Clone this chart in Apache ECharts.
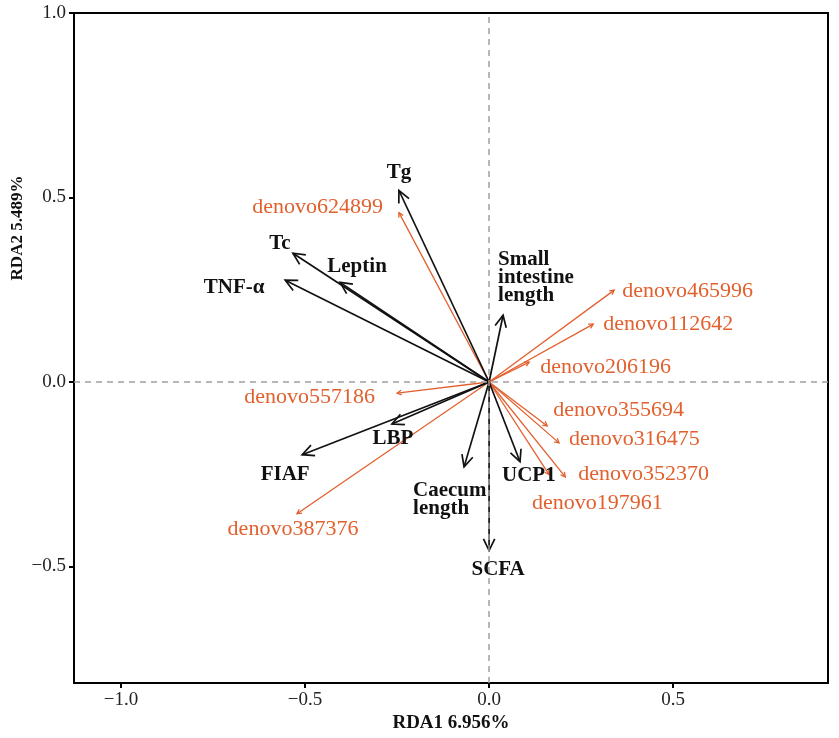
<!DOCTYPE html>
<html lang="en">
<head>
    <meta charset="UTF-8">
    <title>RDA</title>
    <script src="https://cdn.jsdelivr.net/npm/echarts@6/dist/echarts.min.js"></script>
    <style>
        html, body { margin: 0; padding: 0; background: #fff; }
        #main { width: 839px; height: 738px; }
    </style>
</head>
<body>
    <div id="main"></div>
    <script>
        // environmental factors (black arrows)
        var envNames = ['Tg', 'Tc', 'TNF-α', 'Leptin', 'Small\nintestine\nlength', 'LBP', 'FIAF', 'Caecum\nlength', 'UCP1', 'SCFA'];
        var envX = [-0.245, -0.533, -0.554, -0.405, 0.038, -0.264, -0.508, -0.068, 0.084, 0.000];
        var envY = [0.519, 0.349, 0.276, 0.270, 0.181, -0.114, -0.197, -0.230, -0.216, -0.457];

        // OTUs (orange arrows)
        var otuNames = ['denovo624899', 'denovo465996', 'denovo112642', 'denovo206196', 'denovo355694',
            'denovo316475', 'denovo352370', 'denovo197961', 'denovo557186', 'denovo387376'];
        var otuX = [-0.245, 0.340, 0.283, 0.109, 0.158, 0.190, 0.207, 0.163, -0.250, -0.522];
        var otuY = [0.459, 0.249, 0.157, 0.054, -0.119, -0.165, -0.257, -0.251, -0.030, -0.357];

        var tickValues = [-1.0, -0.5, 0.0, 0.5, 1.0];

        // label placement: pixel offset from arrow tip + alignment
        var envLabelPos = [
            [0, -18, 'center'], [-13, -10, 'center'], [-51, 7, 'center'], [17, -16, 'center'],
            [-5, -38, 'left'], [1, 15, 'center'], [-17, 20, 'center'], [-51, 33, 'left'],
            [-18, 14, 'left'], [9, 19, 'center']
        ];
        var otuLabelPos = [
            [-16, -5, 'right'], [8, 1, 'left'], [10, 0, 'left'], [11, 5, 'left'], [6, -16, 'left'],
            [10, -4, 'left'], [13, -3, 'left'], [-17, 29, 'left'], [-22, 4, 'right'], [-4, 15, 'center']
        ];

        var serif = '"Liberation Serif", "Times New Roman", serif';
        var orange = '#e2602e';

        function makeArrow(names, pos, color, lw, headLen, headAng, font) {
            return function (params, api) {
                var o = api.coord([0, 0]);
                var t = api.coord([api.value(0), api.value(1)]);
                var ang = Math.atan2(t[1] - o[1], t[0] - o[0]);
                var h1 = [t[0] - headLen * Math.cos(ang - headAng), t[1] - headLen * Math.sin(ang - headAng)];
                var h2 = [t[0] - headLen * Math.cos(ang + headAng), t[1] - headLen * Math.sin(ang + headAng)];
                var p = pos[params.dataIndex];
                return {
                    type: 'group',
                    children: [{
                        type: 'line',
                        shape: { x1: o[0], y1: o[1], x2: t[0], y2: t[1] },
                        style: { stroke: color, lineWidth: lw }
                    }, {
                        type: 'polyline',
                        shape: { points: [h1, t, h2] },
                        style: { stroke: color, lineWidth: lw, fill: null }
                    }, {
                        type: 'text',
                        x: t[0] + p[0],
                        y: t[1] + p[1],
                        style: {
                            text: names[params.dataIndex],
                            fill: color,
                            font: font,
                            lineHeight: 18,
                            align: p[2],
                            verticalAlign: 'middle'
                        }
                    }]
                };
            };
        }

        function tickFmt(v) {
            return v.toFixed(1).replace('-', '\u2212');
        }

        var myChart = echarts.init(document.getElementById('main'));

        var option = {
            animation: false,
            grid: {
                left: 74, right: 11, top: 13, bottom: 53,
                show: true, borderColor: '#000', borderWidth: 2
            },
            xAxis: {
                type: 'value',
                min: -1.128, max: 0.921,
                name: 'RDA1 6.956%',
                nameLocation: 'middle',
                nameGap: 24,
                nameTextStyle: { fontFamily: serif, fontSize: 19, fontWeight: 'bold', color: '#111' },
                axisLine: { show: true, onZero: false, lineStyle: { color: '#000', width: 2 } },
                axisTick: { show: true, length: 5, customValues: tickValues, lineStyle: { color: '#000', width: 2 } },
                axisLabel: {
                    customValues: tickValues, formatter: tickFmt, margin: 7,
                    fontFamily: serif, fontSize: 19, color: '#222'
                },
                splitLine: { show: false }
            },
            yAxis: {
                type: 'value',
                min: -0.816, max: 1.0,
                axisLine: { show: true, onZero: false, lineStyle: { color: '#000', width: 2 } },
                axisTick: { show: true, length: 5, customValues: tickValues, lineStyle: { color: '#000', width: 2 } },
                axisLabel: {
                    customValues: tickValues, formatter: tickFmt, margin: 8,
                    fontFamily: serif, fontSize: 19, color: '#222'
                },
                splitLine: { show: false }
            },
            graphic: [{
                type: 'text',
                x: 18, y: 228,
                rotation: Math.PI / 2,
                style: {
                    text: 'RDA2 5.489%',
                    font: 'bold 17px ' + serif,
                    fill: '#111',
                    align: 'center',
                    verticalAlign: 'middle'
                }
            }],
            series: [{
                type: 'line',
                data: [],
                z: 1,
                markLine: {
                    silent: true,
                    symbol: 'none',
                    label: { show: false },
                    lineStyle: { color: '#a0a0a0', type: [6, 5], width: 1.5 },
                    data: [{ xAxis: 0 }, { yAxis: 0 }]
                }
            }, {
                type: 'custom',
                z: 3,
                renderItem: makeArrow(otuNames, otuLabelPos, orange, 1.3, 5, 0.5, '22px ' + serif),
                data: otuX.map(function (x, i) { return [x, otuY[i]]; })
            }, {
                type: 'custom',
                z: 4,
                renderItem: makeArrow(envNames, envLabelPos, '#111', 1.7, 13, 0.45, 'bold 21px ' + serif),
                data: envX.map(function (x, i) { return [x, envY[i]]; })
            }]
        };

        myChart.setOption(option);
    </script>
</body>
</html>
